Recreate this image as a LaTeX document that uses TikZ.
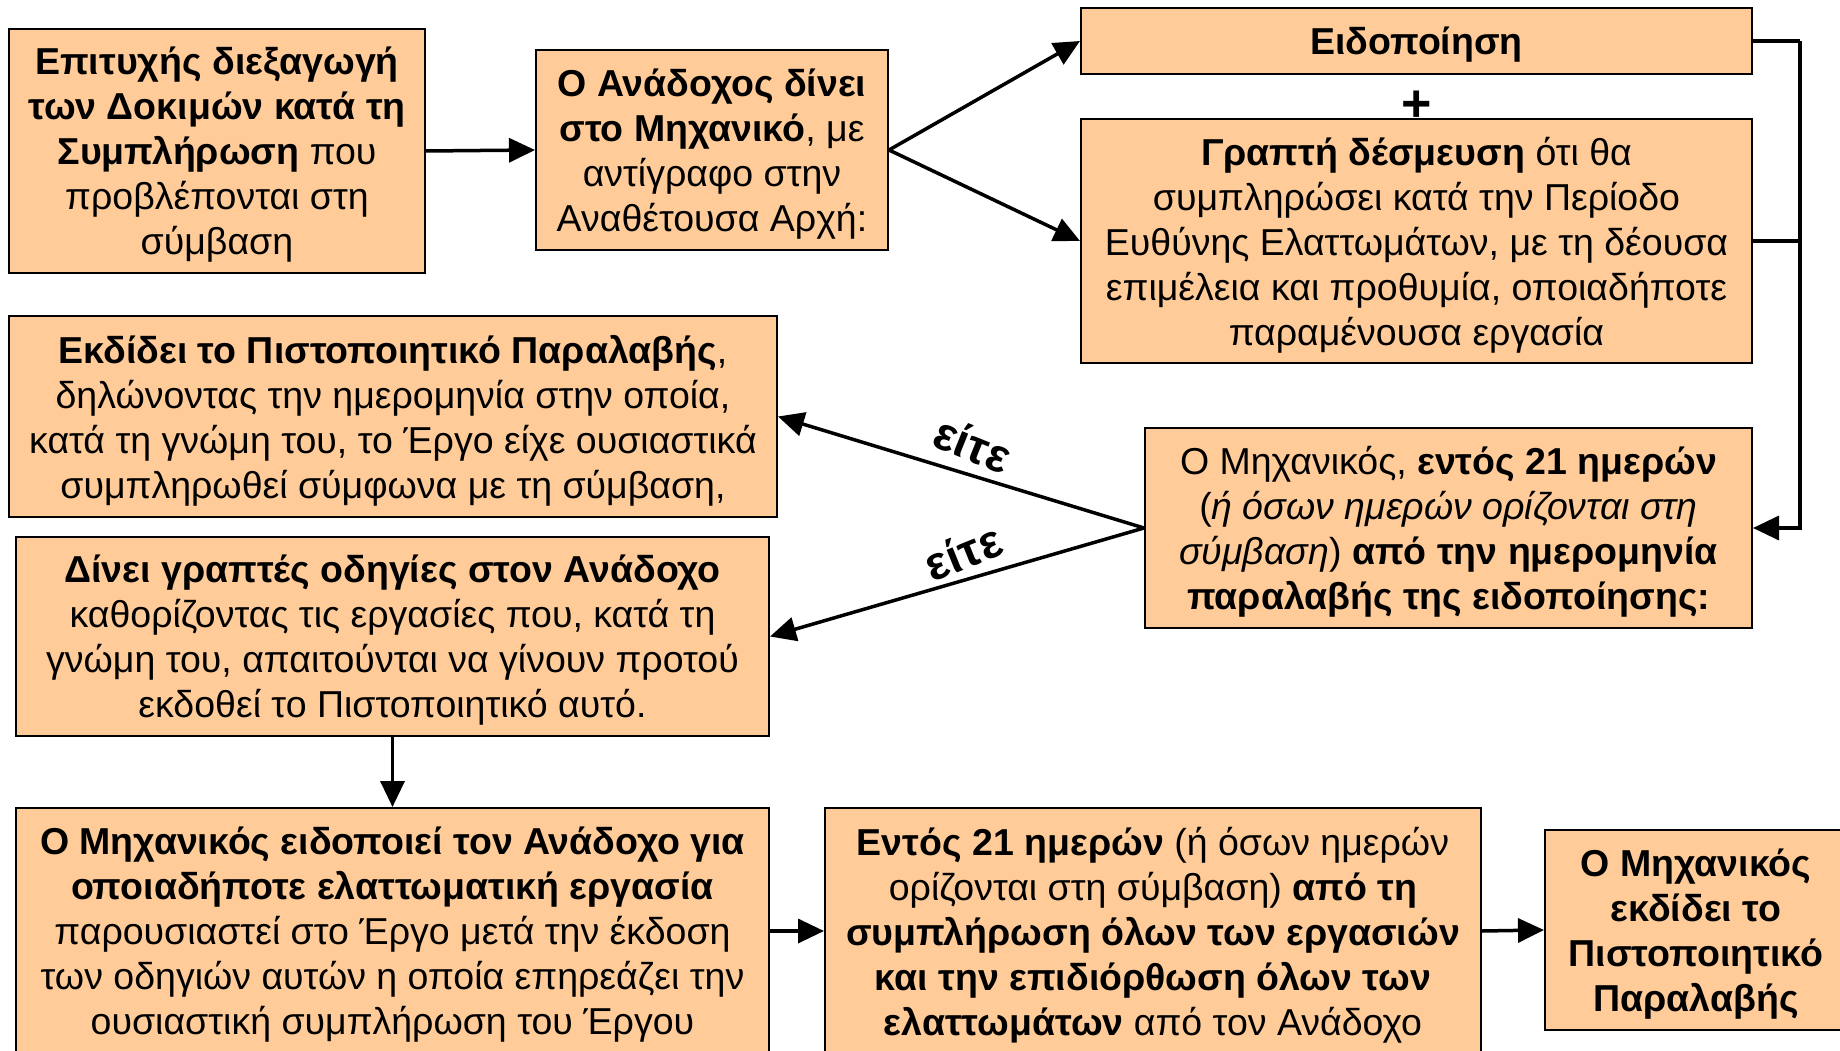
\documentclass[tikz,border=0pt]{standalone}
\usepackage{fontspec}
\setmainfont{Liberation Sans}
\usetikzlibrary{arrows.meta}
\definecolor{peach}{RGB}{255,204,153}
\tikzset{
  stagebox/.style={draw=black, line width=2pt, fill=peach, align=center,
    inner sep=0pt, text depth=0pt, font=\fontsize{37.5}{45}\selectfont},
  flow/.style={line width=3.5pt, -{Triangle[length=26pt,width=24pt]}},
  wire/.style={line width=3.5pt},
  eitherlabel/.style={font=\fontsize{47}{50}\selectfont\bfseries, inner sep=0pt}
}
\begin{document}
\begin{tikzpicture}[x=1pt,y=-1pt]
\clip (0,0) rectangle (1840,1051);
\fill[white] (0,0) rectangle (1840,1051);

% upper row
\node[stagebox, minimum width=416pt, minimum height=244pt] (tests) at (217,151)
  {\textbf{Επιτυχής διεξαγωγή}\\\textbf{των Δοκιμών κατά τη}\\\textbf{Συμπλήρωση} που\\προβλέπονται στη\\σύμβαση};
\node[stagebox, minimum width=352pt, minimum height=200pt] (contractor) at (712,150)
  {\textbf{Ο Ανάδοχος δίνει}\\\textbf{στο Μηχανικό}, με\\αντίγραφο στην\\Αναθέτουσα Αρχή:};
\node[stagebox, minimum width=671pt, minimum height=66pt] (notice) at (1416.5,41)
  {\textbf{Ειδοποίηση}};
\node[font=\fontsize{52}{52}\selectfont\bfseries, inner sep=0pt] (plus) at (1416.5,106) {+};
\node[stagebox, minimum width=671pt, minimum height=244pt] (undertaking) at (1416.5,241)
  {\textbf{Γραπτή δέσμευση} ότι θα\\συμπληρώσει κατά την Περίοδο\\Ευθύνης Ελαττωμάτων, με τη δέουσα\\επιμέλεια και προθυμία, οποιαδήποτε\\παραμένουσα εργασία};

% middle row
\node[stagebox, minimum width=768pt, minimum height=201pt] (issue) at (393,416.5)
  {\textbf{Εκδίδει το Πιστοποιητικό Παραλαβής},\\δηλώνοντας την ημερομηνία στην οποία,\\κατά τη γνώμη του, το Έργο είχε ουσιαστικά\\συμπληρωθεί σύμφωνα με τη σύμβαση,};
\node[stagebox, minimum width=607pt, minimum height=200pt] (engineer) at (1448.5,528)
  {Ο Μηχανικός, \textbf{εντός 21 ημερών}\\(\textit{ή όσων ημερών ορίζονται στη}\\\textit{σύμβαση}) \textbf{από την ημερομηνία}\\\textbf{παραλαβής της ειδοποίησης:}};
\node[stagebox, minimum width=753pt, minimum height=199pt] (instruct) at (392.5,636.5)
  {\textbf{Δίνει γραπτές οδηγίες στον Ανάδοχο}\\καθορίζοντας τις εργασίες που, κατά τη\\γνώμη του, απαιτούνται να γίνουν προτού\\εκδοθεί το Πιστοποιητικό αυτό.};

% lower row
\node[stagebox, minimum width=753pt, minimum height=246pt] (defects) at (392.5,931)
  {\textbf{Ο Μηχανικός ειδοποιεί τον Ανάδοχο για}\\\textbf{οποιαδήποτε ελαττωματική εργασία}\\παρουσιαστεί στο Έργο μετά την έκδοση\\των οδηγιών αυτών η οποία επηρεάζει την\\ουσιαστική συμπλήρωση του Έργου};
\node[stagebox, minimum width=656pt, minimum height=246pt] (within) at (1153,931)
  {\textbf{Εντός 21 ημερών} (ή όσων ημερών\\ορίζονται στη σύμβαση) \textbf{από τη}\\\textbf{συμπλήρωση όλων των εργασιών}\\\textbf{και την επιδιόρθωση όλων των}\\\textbf{ελαττωμάτων} από τον Ανάδοχο};
\node[stagebox, minimum width=302pt, minimum height=200pt] (certificate) at (1696,930)
  {\textbf{Ο Μηχανικός}\\\textbf{εκδίδει το}\\\textbf{Πιστοποιητικό}\\\textbf{Παραλαβής}};

% branch labels
\node[eitherlabel, rotate=-22] (either1) at (973,444) {είτε};
\node[eitherlabel, rotate=22] (either2) at (963,552) {είτε};

% connectors
\draw[flow] (tests.east) -- (contractor.west);
\draw[flow] (contractor.east) -- (notice.west);
\draw[flow] (contractor.east) -- (undertaking.west);
\coordinate (bus) at (1800,41);
\draw[wire] (notice.east) -- (bus);
\draw[flow] (bus) |- (engineer.east);
\draw[wire] (undertaking.east) -- (undertaking.east -| bus);
\draw[flow] (engineer.west) -- (issue.east);
\draw[flow] (engineer.west) -- (instruct.east);
\draw[flow] (instruct.south) -- (defects.north);
\draw[flow] (defects.east) -- (within.west);
\draw[flow] (within.east) -- (certificate.west);
\end{tikzpicture}
\end{document}
